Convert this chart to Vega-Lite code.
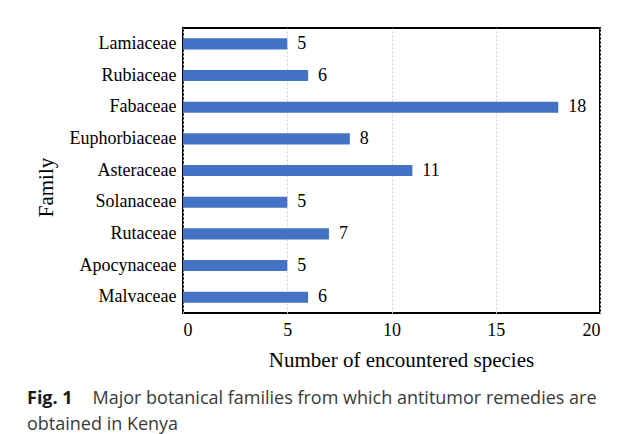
{
  "$schema": "https://vega.github.io/schema/vega-lite/v6.json",
  "width": 417,
  "height": 285,
  "autosize": {"type": "none"},
  "padding": {"left": 183, "top": 28, "right": 29, "bottom": 121},
  "background": "white",
  "title": {
    "text": "Fig. 1",
    "subtitle": ["\u200b\u00a0\u00a0\u00a0\u00a0\u00a0\u00a0\u00a0\u00a0\u00a0\u00a0\u00a0\u00a0\u00a0\u00a0Major botanical families from which antitumor remedies are", "obtained in Kenya"],
    "orient": "bottom",
    "anchor": "start",
    "frame": "group",
    "dx": -156,
    "offset": 20,
    "font": "Open Sans",
    "fontSize": 18,
    "fontWeight": "bold",
    "color": "#1a1a1a",
    "subtitleFont": "Open Sans",
    "subtitleFontSize": 18,
    "subtitleColor": "#3a3a3a",
    "subtitleLineHeight": 26,
    "subtitlePadding": -18
  },
  "data": {
    "values": [
      {"family": "Lamiaceae", "species": 5},
      {"family": "Rubiaceae", "species": 6},
      {"family": "Fabaceae", "species": 18},
      {"family": "Euphorbiaceae", "species": 8},
      {"family": "Asteraceae", "species": 11},
      {"family": "Solanaceae", "species": 5},
      {"family": "Rutaceae", "species": 7},
      {"family": "Apocynaceae", "species": 5},
      {"family": "Malvaceae", "species": 6}
    ]
  },
  "encoding": {
    "y": {
      "field": "family",
      "type": "nominal",
      "sort": null,
      "scale": {"paddingInner": 0.65, "paddingOuter": 0.325},
      "axis": {
        "title": "Family",
        "titleFont": "Liberation Serif",
        "titleFontSize": 21,
        "titleFontWeight": "normal",
        "titleColor": "#000",
        "titleX": -137,
        "titleY": 159,
        "titleAngle": -90,
        "titleAlign": "center",
        "titleBaseline": "middle",
        "labelFont": "Liberation Serif",
        "labelFontSize": 18,
        "labelColor": "#000",
        "labelPadding": 7,
        "ticks": false,
        "domain": false,
        "grid": false
      }
    },
    "x": {
      "field": "species",
      "type": "quantitative",
      "scale": {"domain": [0, 20], "nice": false},
      "axis": {
        "title": "Number of encountered species",
        "titleFont": "Liberation Serif",
        "titleFontSize": 21,
        "titleFontWeight": "normal",
        "titleColor": "#000",
        "titleX": 218,
        "titlePadding": 10,
        "values": [0, 5, 10, 15, 20],
        "labelFont": "Liberation Serif",
        "labelFontSize": 18,
        "labelColor": "#000",
        "labelPadding": 8,
        "ticks": false,
        "domain": false,
        "grid": true,
        "gridColor": "#d0d0d0",
        "gridDash": [2, 2],
        "gridWidth": 1
      }
    }
  },
  "layer": [
    {"mark": {"type": "bar", "color": "#4472C4"}},
    {
      "mark": {"type": "text", "align": "left", "baseline": "middle", "dx": 10, "font": "Liberation Serif", "fontSize": 18, "color": "#000"},
      "encoding": {"text": {"field": "species", "type": "quantitative"}}
    }
  ],
  "config": {
    "view": {"stroke": "#000", "strokeWidth": 2}
  }
}
